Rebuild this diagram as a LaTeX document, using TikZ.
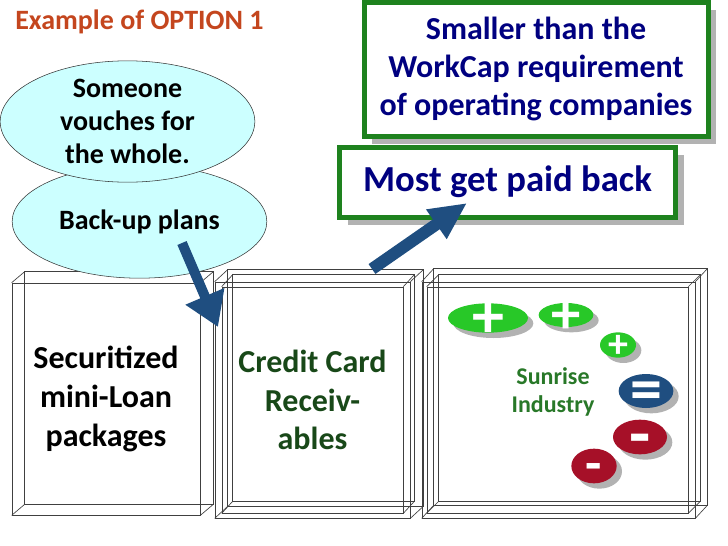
\documentclass[tikz,border=0pt]{standalone}
\usepackage{fontspec}
\setmainfont{Carlito}
\usetikzlibrary{arrows.meta,shapes.geometric,shadows}
\definecolor{titlered}{RGB}{196,70,30}
\definecolor{bubble}{RGB}{204,255,255}
\definecolor{boxgreen}{RGB}{30,130,30}
\definecolor{navy}{RGB}{0,0,128}
\definecolor{cardgreen}{RGB}{24,72,24}
\definecolor{sungreen}{RGB}{40,120,40}
\definecolor{arrowblue}{RGB}{31,78,128}
\definecolor{plusgreen}{RGB}{40,200,40}
\definecolor{minusred}{RGB}{166,16,40}
\tikzset{
  frame/.style={draw=black!75, line width=0.5pt},
  face/.style={frame, rectangle, inner sep=0pt},
  bubblenode/.style={ellipse, draw=black!80, fill=bubble, inner sep=0pt,
    align=center, font=\fontsize{21}{25}\selectfont\bfseries},
  notebox/.style={rectangle, draw=boxgreen, line width=3.75pt, fill=white,
    inner sep=0pt, align=center, text=navy,
    drop shadow={shadow xshift=6pt, shadow yshift=-6pt, fill=black!30, opacity=1}},
  boxlabel/.style={align=center, font=\fontsize{24}{29}\selectfont\bfseries},
  sign/.style={ellipse, inner sep=0pt,
    drop shadow={shadow xshift=4pt, shadow yshift=-4pt, fill=black!30, opacity=1}},
  signtext/.style={text=white, inner sep=0pt, font=\bfseries},
  bigarrow/.style={draw=arrowblue, line width=7.5pt,
    -{Triangle[length=25pt, width=30pt, fill=arrowblue]}}
}
% back face and depth edges of a wire box
\newcommand\boxdepth[3]{%
  \draw[frame] ([shift={(#2,#3)}]#1.north west) rectangle ([shift={(#2,#3)}]#1.south east);
  \foreach \c in {north west,north east,south west,south east}
    \draw[frame] (#1.\c) -- ([shift={(#2,#3)}]#1.\c);
}
\begin{document}
\begin{tikzpicture}[x=0.75pt, y=-0.75pt]
\useasboundingbox (0,0) rectangle (728,546);

\node[anchor=west, inner sep=0pt, text=titlered, font=\fontsize{21}{24}\selectfont\bfseries]
  (title) at (15,22) {Example of OPTION 1};

% wire boxes
\node[face, minimum width=141pt, minimum height=174pt, boxlabel] (loans) at (106,399)
  {Securitized\\mini-Loan\\packages};
\boxdepth{loans}{13}{-11}

\node[face, minimum width=146.25pt, minimum height=177pt, boxlabel, text=cardgreen] (cards) at (312.5,400)
  {Credit Card\\Receiv-\\ables};
\boxdepth{cards}{13}{-12}
\node[face, minimum width=135.75pt, minimum height=169.5pt] (cards-in) at (312.5,400) {};
\boxdepth{cards-in}{11}{-12}

\node[face, minimum width=204.75pt, minimum height=177pt] (sunbox) at (558.5,400) {};
\boxdepth{sunbox}{12}{-13}
\node[face, minimum width=195.75pt, minimum height=169.5pt] (sunbox-in) at (557.5,400) {};
\boxdepth{sunbox-in}{12}{-12}

\node[align=center, text=sungreen, font=\fontsize{18}{21}\selectfont\bfseries] (sunrise) at (553,392)
  {Sunrise\\Industry};

% signs
\node[sign, fill=plusgreen, minimum width=60pt, minimum height=22pt,
  label={[signtext, yshift=-1.5pt, font=\fontsize{48}{48}\selectfont\bfseries]center:+}] (p1) at (488,318) {};
\node[sign, fill=plusgreen, minimum width=41pt, minimum height=18pt,
  label={[signtext, yshift=-1.5pt, font=\fontsize{44}{44}\selectfont\bfseries]center:+}] (p2) at (566,315) {};
\node[sign, fill=plusgreen, minimum width=27pt, minimum height=19pt,
  label={[signtext, yshift=-1pt, font=\fontsize{30}{30}\selectfont\bfseries]center:+}] (p3) at (618,345) {};
\node[sign, fill=arrowblue, minimum width=41pt, minimum height=25.5pt,
  label={[signtext, yshift=-3.8pt, font=\fontsize{48}{48}\selectfont\bfseries]center:=}] (eq) at (646,391) {};
\node[sign, fill=minusred, minimum width=40.5pt, minimum height=26pt,
  label={[signtext, yshift=-6.8pt, font=\fontsize{52}{52}\selectfont\bfseries]center:-}] (m1) at (640,437) {};
\node[sign, fill=minusred, minimum width=34pt, minimum height=26pt,
  label={[signtext, yshift=-5.2pt, font=\fontsize{40}{40}\selectfont\bfseries]center:-}] (m2) at (594,466) {};

% bubbles
\node[bubblenode, minimum width=191pt, minimum height=85pt] (backup) at (139.5,221.5)
  {Back-up plans};
\node[bubblenode, minimum width=191pt, minimum height=91pt] (vouch) at (127.5,121.5)
  {Someone\\vouches for\\the whole.};

% green notes
\node[notebox, minimum width=258pt, minimum height=100.5pt,
  font=\fontsize{24}{28.5}\selectfont\bfseries] (smaller) at (536,69)
  {Smaller than the\\WorkCap requirement\\of operating companies};
\node[notebox, minimum width=252pt, minimum height=52.5pt,
  font=\fontsize{27.5}{30}\selectfont\bfseries] (paidback) at (507.5,182)
  {Most get paid back};

% arrows
\coordinate (tail1) at (182,243);
\coordinate (tip1) at (218,327);
\draw[bigarrow] (tail1) -- (tip1);
\coordinate (tail2) at (372,269);
\coordinate (tip2) at (467,203);
\draw[bigarrow, line width=9pt, -{Triangle[length=28pt, width=25pt, fill=arrowblue]}] (tail2) -- (tip2);
\end{tikzpicture}
\end{document}
